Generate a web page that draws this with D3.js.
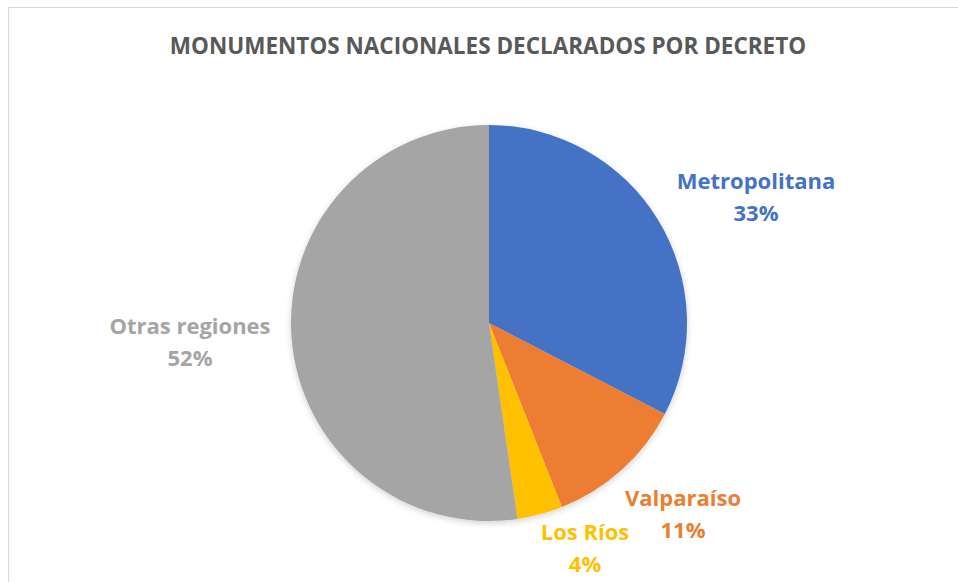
<!DOCTYPE html>
<html>
<head>
<meta charset="utf-8">
<script src="https://cdn.jsdelivr.net/npm/d3@7"></script>
<style>
  body { margin: 0; background: #fff; }
  text { font-family: "Open Sans", sans-serif; font-weight: bold; }
</style>
</head>
<body>
<script>
// data
var regions = ["Metropolitana", "Valparaíso", "Los Ríos", "Otras regiones"]
var shares = [32.6, 11.4, 3.7, 52.3]
var colours = ["#4472C4", "#ED7D31", "#FFC000", "#A5A5A5"]
var chartTitle = "MONUMENTOS NACIONALES DECLARADOS POR DECRETO"

var width = 958
var height = 582
var cx = 489
var cy = 323
var radius = 198

var svg = d3.select("body")
    .append("svg")
    .attr("width", width)
    .attr("height", height)

// chart frame
svg.append("rect")
    .attr("x", 8.5)
    .attr("y", 7.5)
    .attr("width", width)
    .attr("height", height)
    .attr("fill", "none")
    .attr("stroke", "#d9d9d9")

// soft shadow under the pie
var defs = svg.append("defs")
var shadow = defs.append("filter")
    .attr("id", "shadow")
    .attr("x", "-20%").attr("y", "-20%")
    .attr("width", "140%").attr("height", "140%")
shadow.append("feDropShadow")
    .attr("dx", 0).attr("dy", 2)
    .attr("stdDeviation", 3)
    .attr("flood-color", "#000")
    .attr("flood-opacity", 0.18)

svg.append("text")
    .attr("x", 488)
    .attr("y", 54)
    .attr("text-anchor", "middle")
    .attr("fill", "#595959")
    .style("font-size", "22.5px")
    .text(chartTitle)

var pieData = regions.map((r, i) => ({name: r, value: shares[i], colour: colours[i]}))
var total = d3.sum(shares)

var pie = d3.pie()
    .value((d) => d.value)
    .sort(null)

var arc = d3.arc()
    .innerRadius(0)
    .outerRadius(radius)

var g = svg.append("g")
    .attr("transform", "translate(" + cx + "," + cy + ")")

g.append("g")
    .attr("filter", "url(#shadow)")
    .selectAll("path")
    .data(pie(pieData))
    .enter()
    .append("path")
        .attr("d", arc)
        .attr("fill", (d) => d.data.colour)

// label positions, outside the slices like Excel's best fit
var labelPos = {
    "Metropolitana": [756, 189],
    "Valparaíso": [683, 506],
    "Los Ríos": [585, 540],
    "Otras regiones": [190, 334]
}

var labels = svg.selectAll(".lbl")
    .data(pie(pieData))
    .enter()
    .append("text")
        .attr("class", "lbl")
        .attr("text-anchor", "middle")
        .attr("fill", (d) => d.data.colour)
        .style("font-size", "22px")
labels.append("tspan")
    .attr("x", (d) => labelPos[d.data.name][0])
    .attr("y", (d) => labelPos[d.data.name][1])
    .text((d) => d.data.name)
labels.append("tspan")
    .attr("x", (d) => labelPos[d.data.name][0])
    .attr("dy", 32)
    .text((d) => Math.round(100 * d.data.value / total) + "%")
</script>
</body>
</html>
